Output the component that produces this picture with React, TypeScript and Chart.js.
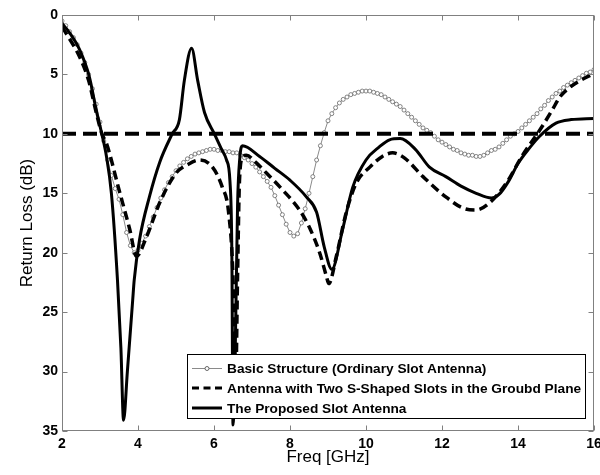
import React, { useEffect, useRef } from 'react';
import { Chart, registerables } from 'chart.js';

Chart.register(...registerables);

const FONT = '"Liberation Sans", Arial, Helvetica, sans-serif';

// Basic Structure (Ordinary Slot Antenna) – sampled every 0.1 GHz
const basicFreq = [
  2.0, 2.1, 2.2, 2.3, 2.4, 2.5, 2.6, 2.7, 2.8, 2.9,
  3.0, 3.1, 3.2, 3.3, 3.4, 3.5, 3.6, 3.7, 3.8, 3.9,
  4.0, 4.1, 4.2, 4.3, 4.4, 4.5, 4.6, 4.7, 4.8, 4.9,
  5.0, 5.1, 5.2, 5.3, 5.4, 5.5, 5.6, 5.7, 5.8, 5.9,
  6.0, 6.1, 6.2, 6.3, 6.4, 6.5, 6.6, 6.7, 6.8, 6.9,
  7.0, 7.1, 7.2, 7.3, 7.4, 7.5, 7.6, 7.7, 7.8, 7.9,
  8.0, 8.1, 8.2, 8.3, 8.4, 8.5, 8.6, 8.7, 8.8, 8.9,
  9.0, 9.1, 9.2, 9.3, 9.4, 9.5, 9.6, 9.7, 9.8, 9.9,
  10.0, 10.1, 10.2, 10.3, 10.4, 10.5, 10.6, 10.7, 10.8, 10.9,
  11.0, 11.1, 11.2, 11.3, 11.4, 11.5, 11.6, 11.7, 11.8, 11.9,
  12.0, 12.1, 12.2, 12.3, 12.4, 12.5, 12.6, 12.7, 12.8, 12.9,
  13.0, 13.1, 13.2, 13.3, 13.4, 13.5, 13.6, 13.7, 13.8, 13.9,
  14.0, 14.1, 14.2, 14.3, 14.4, 14.5, 14.6, 14.7, 14.8, 14.9,
  15.0, 15.1, 15.2, 15.3, 15.4, 15.5, 15.6, 15.7, 15.8, 15.9,
  16.0,
];
const basicLoss = [
  0.5, 0.9, 1.4, 1.9, 2.5, 3.2, 4.0, 5.0, 6.2, 7.5,
  9.0, 10.6, 12.2, 13.5, 14.6, 15.5, 16.8, 18.3, 19.4, 20.0,
  19.8, 19.2, 18.6, 17.8, 17.0, 16.2, 15.4, 14.7, 14.1, 13.6,
  13.1, 12.7, 12.4, 12.1, 11.9, 11.7, 11.6, 11.5, 11.4, 11.3,
  11.3, 11.4, 11.4, 11.5, 11.5, 11.6, 11.6, 11.8, 12.0, 12.2,
  12.5, 12.8, 13.2, 13.6, 14.0, 14.5, 15.2, 16.0, 16.8, 17.6,
  18.3, 18.6, 18.4, 17.5, 16.3, 15.0, 13.6, 12.2, 11.0, 9.9,
  8.9, 8.3, 7.8, 7.4, 7.1, 6.9, 6.7, 6.6, 6.5, 6.4,
  6.4, 6.4, 6.5, 6.6, 6.7, 6.9, 7.1, 7.3, 7.5, 7.7,
  8.0, 8.3, 8.6, 8.9, 9.2, 9.5, 9.7, 9.9, 10.2, 10.5,
  10.7, 10.9, 11.1, 11.3, 11.4, 11.6, 11.7, 11.8, 11.8, 11.9,
  11.9, 11.8, 11.6, 11.4, 11.3, 11.1, 10.8, 10.5, 10.2, 10.0,
  9.8, 9.5, 9.2, 8.9, 8.6, 8.3, 7.9, 7.6, 7.2, 6.9,
  6.6, 6.4, 6.1, 5.9, 5.7, 5.5, 5.3, 5.1, 4.9, 4.8,
  4.6,
];

// Antenna with Two S-Shaped Slots in the Ground Plane
const sShapeFreq = [
  2.0, 2.1, 2.46, 2.7, 2.9, 3.05, 3.17, 3.5, 3.78, 3.96,
  4.22, 4.57, 5.0, 5.3, 5.62, 5.96, 6.22, 6.38, 6.5, 6.57,
  6.62, 6.67, 6.75, 6.85, 7.1, 7.38, 7.8, 8.25, 8.5, 8.78,
  8.96, 9.02, 9.22, 9.48, 9.75, 10.1, 10.43, 10.7, 11.0, 11.5,
  12.1, 12.6, 12.9, 13.25, 13.7, 14.1, 14.57, 14.9, 15.1, 15.4,
  16.0,
];
const sShapeLoss = [
  1.0, 1.5, 3.5, 5.5, 8.2, 10.0, 10.8, 14.7, 18.0, 20.3,
  18.7, 15.8, 13.3, 12.6, 12.2, 12.8, 14.5, 16.5, 22.0, 31.0,
  22.0, 14.0, 12.0, 11.8, 12.4, 13.3, 14.7, 16.4, 17.8, 20.0,
  22.0, 22.6, 20.3, 16.6, 14.1, 12.8, 11.9, 11.6, 12.0, 13.6,
  15.3, 16.3, 16.4, 15.8, 14.1, 11.9, 9.7, 8.0, 6.9, 6.0,
  4.9,
];

// The Proposed Slot Antenna
const propFreq = [
  2.0, 2.2, 2.46, 2.72, 2.9, 3.04, 3.17, 3.3, 3.46, 3.55,
  3.62, 3.72, 3.86, 3.9, 4.04, 4.3, 4.57, 4.9, 5.09, 5.22,
  5.41, 5.57, 5.75, 6.01, 6.2, 6.33, 6.42, 6.47, 6.5, 6.56,
  6.62, 6.68, 6.75, 7.2, 7.6, 8.0, 8.43, 8.7, 8.9, 9.1,
  9.38, 9.65, 10.0, 10.35, 10.62, 10.9, 11.3, 11.67, 12.1, 12.5,
  12.9, 13.3, 13.5, 13.75, 14.0, 14.3, 14.57, 15.0, 15.4, 16.0,
];
const propLoss = [
  0.7, 1.5, 2.9, 5.2, 8.0, 9.9, 11.9, 15.0, 22.3, 28.0,
  34.1, 30.0, 24.0, 22.3, 18.9, 15.3, 12.4, 10.0, 8.8, 5.5,
  2.8, 5.5, 8.2, 10.0, 11.3, 12.2, 14.0, 20.0, 34.5, 28.0,
  16.0, 12.0, 11.0, 11.9, 12.9, 13.9, 15.3, 16.6, 19.5, 21.4,
  18.1, 14.5, 12.2, 11.1, 10.5, 10.4, 11.3, 12.8, 13.6, 14.4,
  15.0, 15.4, 15.1, 14.0, 12.5, 11.2, 10.2, 9.1, 8.8, 8.7,
];

// -10 dB reference line
const refFreq = [2, 16];
const refLoss = [10, 10];

const xTickValues = [2, 4, 6, 8, 10, 12, 14, 16];
const yTickValues = [0, 5, 10, 15, 20, 25, 30, 35];

const legendLabels = [
  'Basic Structure (Ordinary Slot Antenna)',
  'Antenna with Two S-Shaped Slots in the Groubd Plane',
  'The Proposed Slot Antenna',
];

const zip = (xs: number[], ys: number[]) => xs.map((x, i) => ({ x, y: ys[i] }));

const framePlugin = {
  id: 'matlabFrame',
  afterDatasetsDraw(chart: any) {
    const { ctx, chartArea, scales } = chart;
    const { left, right, top, bottom } = chartArea;
    const xs = scales.x;
    const ys = scales.y;
    ctx.save();
    // frame
    ctx.strokeStyle = '#808080';
    ctx.lineWidth = 1;
    ctx.setLineDash([]);
    const L = Math.round(left) + 0.5;
    const R = Math.round(right) - 0.5;
    const T = Math.round(top) + 0.5;
    const B = Math.round(bottom) - 0.5;
    ctx.strokeRect(L, T, R - L, B - T);
    // inward ticks
    const tl = 5;
    ctx.beginPath();
    xTickValues.forEach((v) => {
      const p = Math.round(xs.getPixelForValue(v)) + 0.5;
      ctx.moveTo(p, B);
      ctx.lineTo(p, B - tl);
      ctx.moveTo(p, T);
      ctx.lineTo(p, T + tl);
    });
    yTickValues.forEach((v) => {
      const p = Math.round(ys.getPixelForValue(v)) + 0.5;
      ctx.moveTo(L, p);
      ctx.lineTo(L + tl, p);
      ctx.moveTo(R, p);
      ctx.lineTo(R - tl, p);
    });
    ctx.stroke();

    // legend
    const bx = 187.5, by = 354.5, bw = 398, bh = 64;
    ctx.fillStyle = '#ffffff';
    ctx.fillRect(bx, by, bw, bh);
    ctx.strokeStyle = '#000000';
    ctx.lineWidth = 1;
    ctx.strokeRect(bx, by, bw, bh);
    const rows = [368, 388, 408];
    const sx0 = 192, sx1 = 222;
    // row 1 sample
    ctx.strokeStyle = '#8a8a8a';
    ctx.lineWidth = 1;
    ctx.beginPath();
    ctx.moveTo(sx0, rows[0] + 0.5);
    ctx.lineTo(sx1, rows[0] + 0.5);
    ctx.stroke();
    ctx.beginPath();
    ctx.arc((sx0 + sx1) / 2, rows[0] + 0.5, 2, 0, Math.PI * 2);
    ctx.fillStyle = '#ffffff';
    ctx.fill();
    ctx.strokeStyle = '#666666';
    ctx.stroke();
    // row 2 sample
    ctx.strokeStyle = '#000000';
    ctx.lineWidth = 3;
    ctx.setLineDash([7, 4.5]);
    ctx.beginPath();
    ctx.moveTo(sx0, rows[1]);
    ctx.lineTo(sx1, rows[1]);
    ctx.stroke();
    // row 3 sample
    ctx.setLineDash([]);
    ctx.beginPath();
    ctx.moveTo(sx0, rows[2]);
    ctx.lineTo(sx1, rows[2]);
    ctx.stroke();
    // texts
    ctx.fillStyle = '#000000';
    ctx.font = `bold 13.7px ${FONT}`;
    ctx.textBaseline = 'middle';
    ctx.textAlign = 'left';
    legendLabels.forEach((t, i) => ctx.fillText(t, 227, rows[i] + 1));
    ctx.restore();
  },
};

export default function App() {
  const ref = useRef<HTMLCanvasElement | null>(null);

  useEffect(() => {
    if (!ref.current) return;
    const chart = new Chart(ref.current, {
      type: 'line',
      data: {
        datasets: [
          {
            label: 'ref',
            data: zip(refFreq, refLoss),
            borderColor: '#000000',
            borderWidth: 4,
            borderDash: [14, 7],
            pointRadius: 0,
            tension: 0,
          },
          {
            label: legendLabels[2],
            data: zip(propFreq, propLoss),
            borderColor: '#000000',
            borderWidth: 3,
            pointRadius: 0,
            cubicInterpolationMode: 'monotone',
          },
          {
            label: legendLabels[1],
            data: zip(sShapeFreq, sShapeLoss),
            borderColor: '#000000',
            borderWidth: 3.5,
            borderDash: [9, 5],
            pointRadius: 0,
            cubicInterpolationMode: 'monotone',
          },
          {
            label: legendLabels[0],
            data: zip(basicFreq, basicLoss),
            borderColor: '#8a8a8a',
            borderWidth: 1,
            pointRadius: 2,
            pointBorderWidth: 0.8,
            pointBorderColor: '#666666',
            pointBackgroundColor: '#ffffff',
            tension: 0,
          },
        ],
      },
      options: {
        responsive: false,
        animation: false,
        events: [],
        layout: { padding: { top: 15, right: 6, left: 0, bottom: 0 } },
        plugins: {
          legend: { display: false },
          tooltip: { enabled: false },
          title: { display: false },
        },
        scales: {
          x: {
            type: 'linear',
            min: 2,
            max: 16,
            grid: { display: false, drawTicks: false },
            border: { display: false },
            ticks: {
              stepSize: 2,
              padding: 5,
              color: '#000000',
              font: { family: FONT, size: 14, weight: 'bold' },
              maxRotation: 0,
            },
            title: {
              display: true,
              text: 'Freq [GHz]',
              color: '#000000',
              font: { family: FONT, size: 17 },
              padding: { top: 0, bottom: 7 },
            },
            afterFit: (s: any) => {
              s.height = 44;
              s.paddingLeft = 0;
              s.paddingRight = 0;
            },
          },
          y: {
            type: 'linear',
            reverse: true,
            min: 0,
            max: 35,
            grid: { display: false, drawTicks: false },
            border: { display: false },
            ticks: {
              stepSize: 5,
              padding: 4,
              color: '#000000',
              font: { family: FONT, size: 14, weight: 'bold' },
            },
            title: {
              display: true,
              text: 'Return Loss (dB)',
              color: '#000000',
              font: { family: FONT, size: 17 },
              padding: { top: 17, bottom: 0 },
            },
            afterFit: (s: any) => {
              s.width = 62;
              s.paddingTop = 0;
              s.paddingBottom = 0;
            },
          },
        },
      },
      plugins: [framePlugin],
    });
    return () => chart.destroy();
  }, []);

  return (
    <div style={{ position: 'absolute', left: 0, top: 0, width: 600, height: 475, background: '#ffffff' }}>
      <canvas ref={ref} width={600} height={475} style={{ display: 'block' }} />
    </div>
  );
}
